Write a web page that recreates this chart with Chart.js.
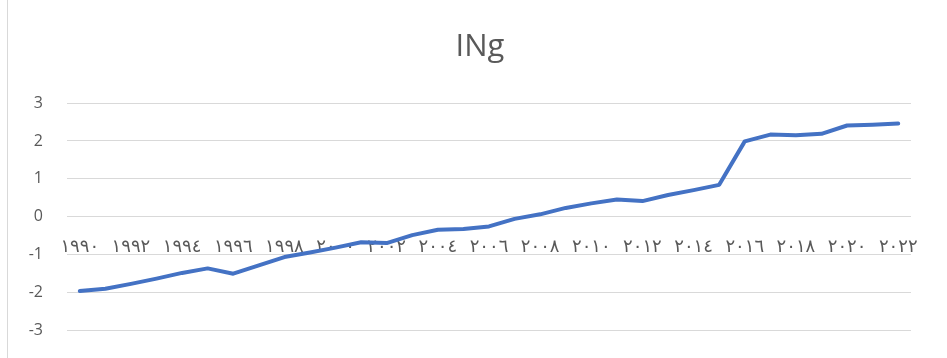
<!DOCTYPE html>
<html>
<head>
<meta charset="utf-8">
<script src="https://cdn.jsdelivr.net/npm/chart.js@4/dist/chart.umd.min.js"></script>
<style>
  html, body { margin: 0; padding: 0; background: #fff; }
  #wrap { position: relative; width: 947px; height: 358px; }
  #edge { position: absolute; left: 7px; top: 0; width: 1px; height: 358px; background: #d9d9d9; }
  canvas { position: absolute; left: 0; top: 0; }
</style>
</head>
<body>
<div id="wrap">
  <div id="edge"></div>
  <canvas id="c" width="947" height="358"></canvas>
</div>
<script>
const chartTitle = 'INg';
const categories = ['١٩٩٠','١٩٩١','١٩٩٢','١٩٩٣','١٩٩٤','١٩٩٥','١٩٩٦','١٩٩٧','١٩٩٨','١٩٩٩',
  '٢٠٠٠','٢٠٠١','٢٠٠٢','٢٠٠٣','٢٠٠٤','٢٠٠٥','٢٠٠٦','٢٠٠٧','٢٠٠٨','٢٠٠٩',
  '٢٠١٠','٢٠١١','٢٠١٢','٢٠١٣','٢٠١٤','٢٠١٥','٢٠١٦','٢٠١٧','٢٠١٨','٢٠١٩',
  '٢٠٢٠','٢٠٢١','٢٠٢٢'];
const ingValues = [-1.97,-1.91,-1.78,-1.64,-1.49,-1.37,-1.51,-1.29,-1.07,-0.95,
  -0.82,-0.68,-0.70,-0.49,-0.35,-0.33,-0.26,-0.06,0.06,0.23,
  0.35,0.45,0.41,0.57,0.70,0.84,1.99,2.17,2.15,2.19,
  2.41,2.43,2.46];
const yTicks = [-3,-2,-1,0,1,2,3];

const spacingPlugin = {
  id: 'xLetterSpacing',
  beforeDraw(chart) {
    const s = chart.scales.x;
    if (s && !s._lsPatched) {
      const orig = s.drawLabels;
      s.drawLabels = function(area) {
        const c = this.ctx;
        c.save();
        c.letterSpacing = '2px';
        orig.call(this, area);
        c.restore();
      };
      s._lsPatched = true;
    }
  }
};

new Chart(document.getElementById('c'), {
  type: 'line',
  data: {
    labels: categories,
    datasets: [{
      label: chartTitle,
      data: ingValues,
      borderColor: '#4472C4',
      borderWidth: 4,
      pointRadius: 0,
      tension: 0,
      borderCapStyle: 'round',
      borderJoinStyle: 'round',
      fill: false,
      yAxisID: 'y'
    }]
  },
  options: {
    responsive: false,
    animation: false,
    layout: { padding: { left: 13, right: 0, top: 29, bottom: 28 } },
    plugins: {
      legend: { display: false },
      tooltip: { enabled: false },
      title: {
        display: true,
        text: chartTitle,
        color: '#595959',
        font: { family: "'Open Sans', sans-serif", size: 31, weight: 'normal' },
        padding: { top: 0, bottom: 37 }
      }
    },
    scales: {
      x: {
        type: 'category',
        offset: true,
        position: { y: 0 },
        afterFit: (s) => { s.height = 0; },
        grid: { display: false },
        border: { display: false },
        ticks: {
          autoSkip: false,
          maxRotation: 0,
          minRotation: 0,
          padding: 12,
          color: '#595959',
          font: { family: "'DejaVu Sans', sans-serif", size: 18 },
          callback: function(value, index) {
            return index % 2 === 0 ? this.getLabelForValue(value) : '';
          }
        }
      },
      y: {
        position: 'left',
        min: -3,
        max: 3,
        afterBuildTicks: (s) => { s.ticks = yTicks.map(v => ({ value: v })); },
        afterFit: (s) => { s.width = 54; },
        grid: { color: '#d9d9d9', lineWidth: 1, drawTicks: true, tickLength: 8, tickColor: 'rgba(0,0,0,0)' },
        border: { display: false },
        ticks: {
          padding: 16,
          color: '#595959',
          font: { family: "'Open Sans', sans-serif", size: 16 }
        }
      },
      yRight: {
        position: 'right',
        min: -3,
        max: 3,
        afterFit: (s) => { s.width = 36; },
        grid: { display: false, drawOnChartArea: false },
        border: { display: false },
        ticks: { display: false }
      }
    }
  },
  plugins: [spacingPlugin]
});
</script>
</body>
</html>
